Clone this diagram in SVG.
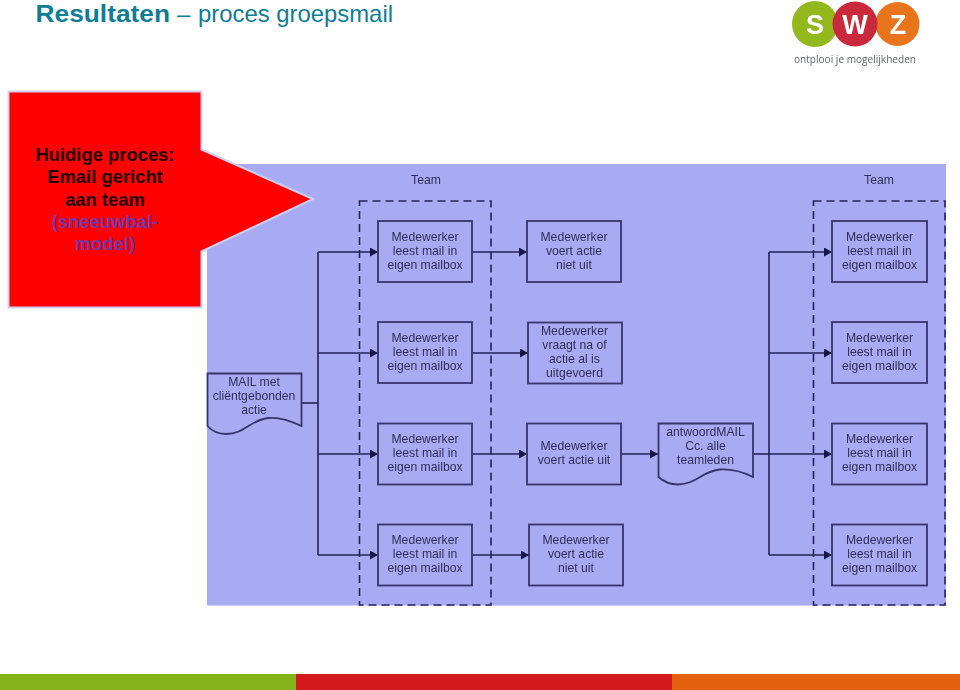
<svg xmlns="http://www.w3.org/2000/svg" width="960" height="690" viewBox="0 0 960 690">
<style>
text{font-family:"Liberation Sans",Arial,sans-serif}
.title{font-size:24px;fill:#0f7d97}
.shape{fill:#a9abf2;stroke:#34346e;stroke-width:1.8}
.lbl{font-size:12.2px;fill:#2f2f5c;text-anchor:middle}
.team{fill:none;stroke:#23235a;stroke-width:1.6;stroke-dasharray:8 5}
.conn{fill:none;stroke:#22225a;stroke-width:1.6}
.callout{font-size:18.4px;font-weight:bold;text-anchor:middle;fill:#1f0000}
.logo{font-size:27px;font-weight:bold;fill:#fff;text-anchor:middle}
</style>
<defs>
<marker id="arrow" markerUnits="userSpaceOnUse" markerWidth="8" markerHeight="9" refX="8" refY="4.500" orient="auto"><path d="M0 0L8 4.500L0 9Z" fill="#14144a"/></marker>
<filter id="soft" x="-2%" y="-2%" width="104%" height="104%"><feGaussianBlur stdDeviation="0.45"/></filter>
</defs>
<rect width="960" height="690" fill="#fff"/>
<g id="title">
<text class="title" x="35.500" y="22" font-weight="bold" textLength="134.500" lengthAdjust="spacingAndGlyphs">Resultaten</text>
<text class="title" x="177" y="22" textLength="13">–</text>
<text class="title" x="198" y="22" textLength="195" lengthAdjust="spacingAndGlyphs">proces groepsmail</text>
</g>
<g id="logo" filter="url(#soft)">
<circle cx="815" cy="24" r="23" fill="#93b81c"/>
<circle cx="897.500" cy="24" r="22" fill="#e8741a"/>
<circle cx="855" cy="24" r="22.500" fill="#c92a3a"/>
<text class="logo" x="815" y="34">S</text>
<text class="logo" x="855" y="34">W</text>
<text class="logo" x="898" y="34">Z</text>
<text x="794" y="63" font-size="11.500" fill="#5f6468" style="font-family:'Open Sans',sans-serif" textLength="122" lengthAdjust="spacingAndGlyphs">ontplooi je mogelijkheden</text>
</g>
<g filter="url(#soft)">
<rect id="panel" x="207" y="164" width="739" height="441.500" fill="#a9abf2"/>
<g id="team-left"><text class="lbl" x="426" y="184">Team</text><rect class="team" x="359.500" y="201" width="131.500" height="404"/></g>
<g id="team-right"><text class="lbl" x="879" y="184">Team</text><rect class="team" x="813.500" y="201" width="131.500" height="404"/></g>
<g id="connectors">
<path class="conn" d="M302 403H318" stroke-width="2"/>
<path class="conn" d="M318 252V555"/>
<path class="conn" d="M318 252H378" marker-end="url(#arrow)"/>
<path class="conn" d="M318 353H378" marker-end="url(#arrow)"/>
<path class="conn" d="M318 454H378" marker-end="url(#arrow)"/>
<path class="conn" d="M318 555H378" marker-end="url(#arrow)"/>
<path class="conn" d="M472 252H527" marker-end="url(#arrow)"/>
<path class="conn" d="M472 353H528" marker-end="url(#arrow)"/>
<path class="conn" d="M472 454H527" marker-end="url(#arrow)"/>
<path class="conn" d="M472 555H529" marker-end="url(#arrow)"/>
<path class="conn" d="M621 454H658" marker-end="url(#arrow)"/>
<path class="conn" d="M753 454H769" stroke-width="2"/>
<path class="conn" d="M769 252V555"/>
<path class="conn" d="M769 252H832" marker-end="url(#arrow)"/>
<path class="conn" d="M769 353H832" marker-end="url(#arrow)"/>
<path class="conn" d="M769 454H832" marker-end="url(#arrow)"/>
<path class="conn" d="M769 555H832" marker-end="url(#arrow)"/>
</g>
<g id="doc-mail"><path class="shape" d="M207.500 373.500H301.500V426C289 420 279 417 268 418C250 420 245 434 226 434C218 434 212 431 207.500 426Z"/><text class="lbl"><tspan x="254" y="386">MAIL met</tspan><tspan x="254" y="400">cliëntgebonden</tspan><tspan x="254" y="413.500">actie</tspan></text></g>
<g id="doc-antwoord"><path class="shape" d="M658.500 423.500H753V477C741 471 731 469 720 469.500C702 471 697 484 678 484.500C670 484.500 663 481 658.500 477Z"/><text class="lbl"><tspan x="705.500" y="436">antwoordMAIL</tspan><tspan x="705.500" y="450">Cc. alle</tspan><tspan x="705.500" y="464">teamleden</tspan></text></g>
<g id="l1"><rect class="shape" x="378" y="221" width="94" height="61"/><text class="lbl"><tspan x="425" y="241">Medewerker</tspan><tspan x="425" y="255">leest mail in</tspan><tspan x="425" y="268.500">eigen mailbox</tspan></text></g>
<g id="l2"><rect class="shape" x="378" y="322" width="94" height="61"/><text class="lbl"><tspan x="425" y="342">Medewerker</tspan><tspan x="425" y="356">leest mail in</tspan><tspan x="425" y="369.500">eigen mailbox</tspan></text></g>
<g id="l3"><rect class="shape" x="378" y="423.500" width="94" height="61"/><text class="lbl"><tspan x="425" y="443">Medewerker</tspan><tspan x="425" y="457">leest mail in</tspan><tspan x="425" y="470.500">eigen mailbox</tspan></text></g>
<g id="l4"><rect class="shape" x="378" y="524.500" width="94" height="61"/><text class="lbl"><tspan x="425" y="544">Medewerker</tspan><tspan x="425" y="558">leest mail in</tspan><tspan x="425" y="571.500">eigen mailbox</tspan></text></g>
<g id="m1"><rect class="shape" x="527" y="221" width="94" height="61"/><text class="lbl"><tspan x="574" y="241">Medewerker</tspan><tspan x="574" y="255">voert actie</tspan><tspan x="574" y="268.500">niet uit</tspan></text></g>
<g id="m2"><rect class="shape" x="528" y="322.500" width="94" height="61"/><text class="lbl"><tspan x="574.500" y="335">Medewerker</tspan><tspan x="574.500" y="349">vraagt na of</tspan><tspan x="574.500" y="363">actie al is</tspan><tspan x="574.500" y="377">uitgevoerd</tspan></text></g>
<g id="m3"><rect class="shape" x="527" y="423.500" width="94" height="61"/><text class="lbl"><tspan x="574" y="450">Medewerker</tspan><tspan x="574" y="464">voert actie uit</tspan></text></g>
<g id="m4"><rect class="shape" x="529" y="524.500" width="94" height="61"/><text class="lbl"><tspan x="576" y="544">Medewerker</tspan><tspan x="576" y="558">voert actie</tspan><tspan x="576" y="571.500">niet uit</tspan></text></g>
<g id="r1"><rect class="shape" x="832" y="221" width="95" height="61"/><text class="lbl"><tspan x="879.500" y="241">Medewerker</tspan><tspan x="879.500" y="255">leest mail in</tspan><tspan x="879.500" y="268.500">eigen mailbox</tspan></text></g>
<g id="r2"><rect class="shape" x="832" y="322" width="95" height="61"/><text class="lbl"><tspan x="879.500" y="342">Medewerker</tspan><tspan x="879.500" y="356">leest mail in</tspan><tspan x="879.500" y="369.500">eigen mailbox</tspan></text></g>
<g id="r3"><rect class="shape" x="832" y="423.500" width="95" height="61"/><text class="lbl"><tspan x="879.500" y="443">Medewerker</tspan><tspan x="879.500" y="457">leest mail in</tspan><tspan x="879.500" y="470.500">eigen mailbox</tspan></text></g>
<g id="r4"><rect class="shape" x="832" y="524.500" width="95" height="61"/><text class="lbl"><tspan x="879.500" y="544">Medewerker</tspan><tspan x="879.500" y="558">leest mail in</tspan><tspan x="879.500" y="571.500">eigen mailbox</tspan></text></g>
</g>
<g id="callout">
<path d="M8.500 91.500H201.500V149.500L313 199L201.500 251.500V307.500H8.500Z" fill="#ff0000" stroke="#cfcff2" stroke-width="2"/>
<text class="callout"><tspan x="105" y="161">Huidige proces:</tspan><tspan x="105" y="183">Email gericht</tspan><tspan x="105" y="206">aan team</tspan><tspan x="105" y="228" fill="#6f38a8">(sneeuwbal-</tspan><tspan x="105" y="250" fill="#6f38a8">model)</tspan></text>
</g>
<g id="footer"><rect y="674" width="296" height="16" fill="#85b31a"/><rect x="296" y="674" width="376" height="16" fill="#d2191e"/><rect x="672" y="674" width="288" height="16" fill="#e3610f"/></g>
</svg>
